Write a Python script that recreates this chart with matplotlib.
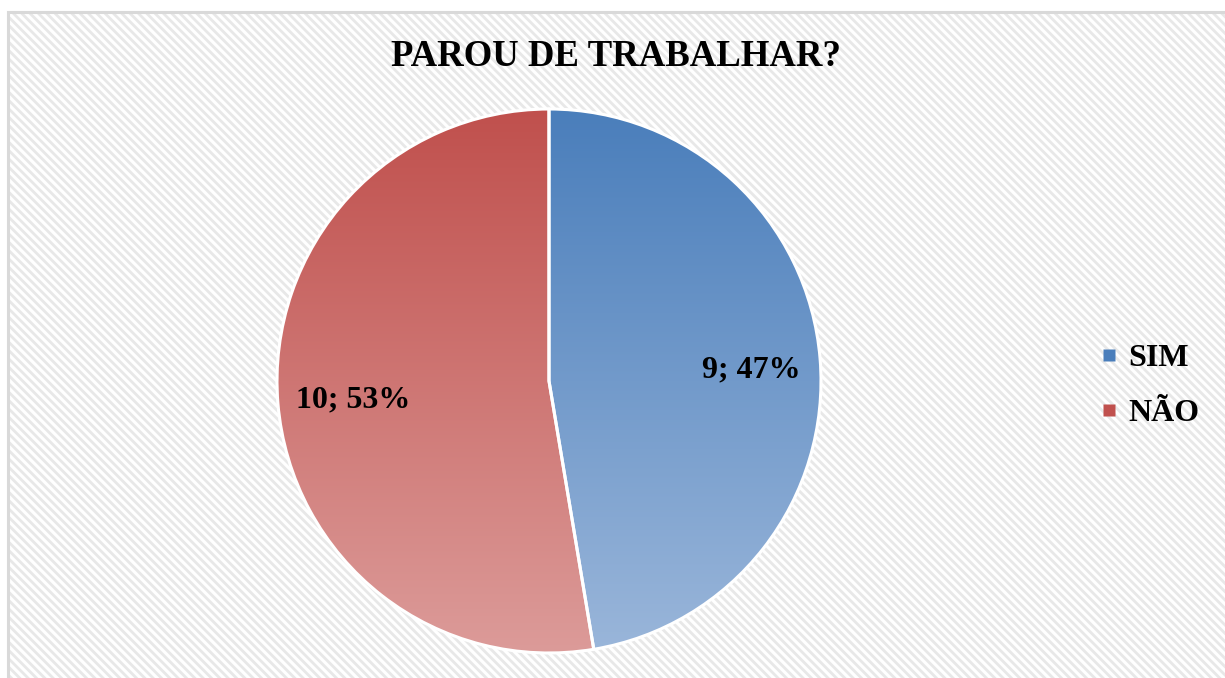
import numpy as np
import matplotlib
matplotlib.use('Agg')
import matplotlib.pyplot as plt
from matplotlib.patches import Rectangle
from matplotlib.colors import LinearSegmentedColormap
from matplotlib.lines import Line2D

# data
labels = ['SIM', 'NÃO']
values = [9, 10]
top_colors = ['#4a7ebb', '#c0504d']
bottom_colors = ['#9ab6da', '#dc9b99']
title = 'PAROU DE TRABALHAR?'

plt.rcParams['font.family'] = ['Liberation Serif', 'DejaVu Serif']
plt.rcParams['hatch.linewidth'] = 2.0
plt.rcParams['hatch.color'] = '#e8e8e8'

W, H = 1225, 678
fig = plt.figure(figsize=(W / 100, H / 100), dpi=100)
fig.patch.set_facecolor('white')

# striped background inside a light frame
bg = Rectangle((8 / W, -0.05), 1.1, 1 - 12 / H + 0.05, transform=fig.transFigure,
               facecolor='white', edgecolor='#e8e8e8', hatch='\\\\\\\\', linewidth=0,
               zorder=-2)
fig.patches.append(bg)
frame = Rectangle((8 / W, -0.05), 1.1, 1 - 12 / H + 0.05, transform=fig.transFigure,
                  facecolor='none', edgecolor='#d9d9d9', linewidth=2.2, zorder=-1)
fig.patches.append(frame)

# pie axes: center (549, 381) px, radius 272 px
r = 272
ax = fig.add_axes([(549 - r) / W, (H - 381 - r) / H, 2 * r / W, 2 * r / H])
ax.set_xlim(-1, 1)
ax.set_ylim(-1, 1)
ax.set_aspect('equal')
ax.axis('off')

wedges, _ = ax.pie(values, startangle=90, counterclock=False, radius=1,
                   colors=['none', 'none'],
                   wedgeprops=dict(edgecolor='white', linewidth=2.2))

grad = np.linspace(0, 1, 256).reshape(-1, 1)
for w, c0, c1 in zip(wedges, top_colors, bottom_colors):
    cmap = LinearSegmentedColormap.from_list('g', [c0, c1])
    im = ax.imshow(grad, cmap=cmap, extent=(-1, 1, -1, 1), origin='upper',
                   aspect='auto', zorder=1)
    im.set_clip_path(w)
    w.set_zorder(2)
ax.set_xlim(-1, 1)
ax.set_ylim(-1, 1)

total = sum(values)
ax.text(0.745, 0.04, f'{values[0]}; {round(values[0] / total * 100)}%',
        ha='center', va='center', fontsize=23, fontweight='bold', zorder=3)
ax.text(-0.72, -0.07, f'{values[1]}; {round(values[1] / total * 100)}%',
        ha='center', va='center', fontsize=23, fontweight='bold', zorder=3)

fig.text(616 / W, 1 - 56 / H, title, ha='center', va='center',
         fontsize=26.5, fontweight='bold')

handles = [Line2D([], [], marker='s', linestyle='none', markersize=8,
                  markerfacecolor=(top_colors[i]), markeredgecolor='none')
           for i in range(2)]
fig.legend(handles, labels, loc='center left', bbox_to_anchor=(1071 / W, 1 - 386 / H),
           frameon=False, prop=dict(size=23, weight='bold'), handlelength=0.6,
           handletextpad=0.3, labelspacing=0.8)

fig.savefig('out.png', dpi=100)
